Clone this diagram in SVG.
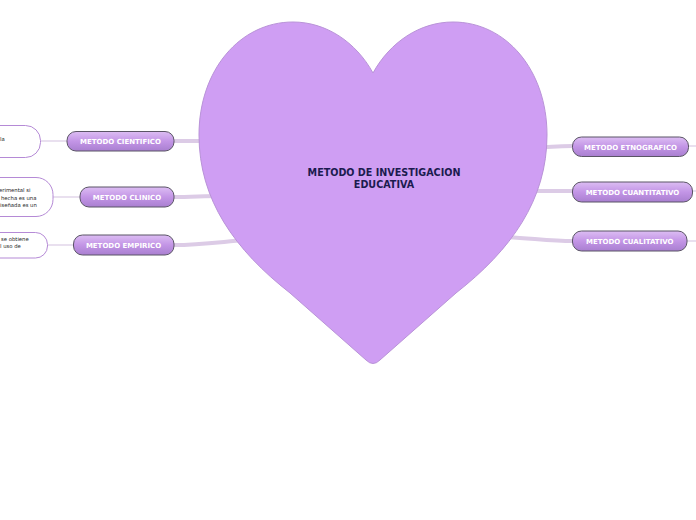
<svg xmlns="http://www.w3.org/2000/svg" width="696" height="520" viewBox="0 0 696 520">
<defs>
<linearGradient id="pill" x1="0" y1="0" x2="0" y2="1">
<stop offset="0" stop-color="#dcbdf3"/>
<stop offset="0.5" stop-color="#c395e6"/>
<stop offset="1" stop-color="#a97fd0"/>
</linearGradient>
</defs>
<style>
.con{fill:none;stroke:#dccbe6;stroke-width:4;stroke-linecap:round}
.thin{fill:none;stroke:#e2d6ea;stroke-width:1.5}
.pill{fill:url(#pill);stroke:#5b5566;stroke-width:1}
.pt{font-family:"DejaVu Sans",Verdana,sans-serif;font-weight:bold;font-size:7px;fill:#ffffff;text-anchor:middle}
.box{fill:#ffffff;stroke:#b58ad6;stroke-width:1}
.bt{font-family:"DejaVu Sans",Verdana,sans-serif;font-size:5.3px;fill:#222222}
.ct{font-family:"DejaVu Sans",Verdana,sans-serif;font-weight:bold;font-size:9.6px;fill:#1b1b4f;text-anchor:middle}
</style>
<rect width="696" height="520" fill="#ffffff"/>
<g id="connectors">
<path class="con" d="M174,141 C185,141 195,141 205,141"/>
<path class="con" d="M174,197 C190,197 205,196 220,196"/>
<path class="con" d="M174,245 C200,245 220,242 245,240"/>
<path class="con" d="M540,147 C552,147 562,146 573,146"/>
<path class="con" d="M530,191 C545,191 560,191 573,191"/>
<path class="con" d="M505,237 C530,238 550,241 573,241"/>
<path class="thin" d="M41,141 L67,141"/>
<path class="thin" d="M53,197 L80,197"/>
<path class="thin" d="M48,245 L73,245"/>
<path class="thin" d="M688,146 L696,146"/>
<path class="thin" d="M692,191 L696,191"/>
<path class="thin" d="M687,241 L696,241"/>
</g>
<g id="center">
<path d="M373,73 C356,42 326,22 293,22 C240,22 199,70 199,135 C199,200 235,250 290,293 L366,360 Q373,367 380,360 L456,293 C511,250 547,200 547,135 C547,70 506,22 453,22 C420,22 390,42 373,73 Z" fill="#cf9ef3" stroke="#b993d8" stroke-width="1"/>
<text class="ct" x="384" y="176">METODO DE INVESTIGACION</text>
<text class="ct" x="384" y="188">EDUCATIVA</text>
</g>
<g id="n-cientifico">
<rect class="pill" x="67" y="131.5" width="107" height="19.5" rx="9"/>
<text class="pt" x="120.5" y="144">METODO CIENTIFICO</text>
</g>
<g id="n-clinico">
<rect class="pill" x="80" y="187" width="94" height="20" rx="9"/>
<text class="pt" x="127" y="200">METODO CLINICO</text>
</g>
<g id="n-empirico">
<rect class="pill" x="73.5" y="235" width="100.5" height="20" rx="9"/>
<text class="pt" x="123.5" y="248">METODO EMPIRICO</text>
</g>
<g id="n-etnografico">
<rect class="pill" x="572.5" y="137" width="116" height="19.5" rx="9"/>
<text class="pt" x="630.5" y="149.5">METODO ETNOGRAFICO</text>
</g>
<g id="n-cuantitativo">
<rect class="pill" x="572.5" y="182" width="120" height="20" rx="9"/>
<text class="pt" x="632.5" y="194.5">METODO CUANTITATIVO</text>
</g>
<g id="n-cualitativo">
<rect class="pill" x="572.5" y="231" width="114.5" height="20" rx="9"/>
<text class="pt" x="629.75" y="243.5">METODO CUALITATIVO</text>
</g>
<g id="c-cientifico">
<rect class="box" x="-40" y="125.5" width="80.5" height="32" rx="15"/>
<text class="bt" x="0" y="141">la</text>
</g>
<g id="c-clinico">
<rect class="box" x="-40" y="177.5" width="93" height="39" rx="17"/>
<text class="bt" x="-1" y="192">erimental si</text>
<text class="bt" x="1" y="200">hecha es una</text>
<text class="bt" x="0" y="207">iseñada es un</text>
</g>
<g id="c-empirico">
<rect class="box" x="-40" y="232.5" width="87.5" height="25.5" rx="12"/>
<text class="bt" x="1" y="240.5">se obtiene</text>
<text class="bt" x="0" y="247.5">l uso de</text>
</g>
</svg>
